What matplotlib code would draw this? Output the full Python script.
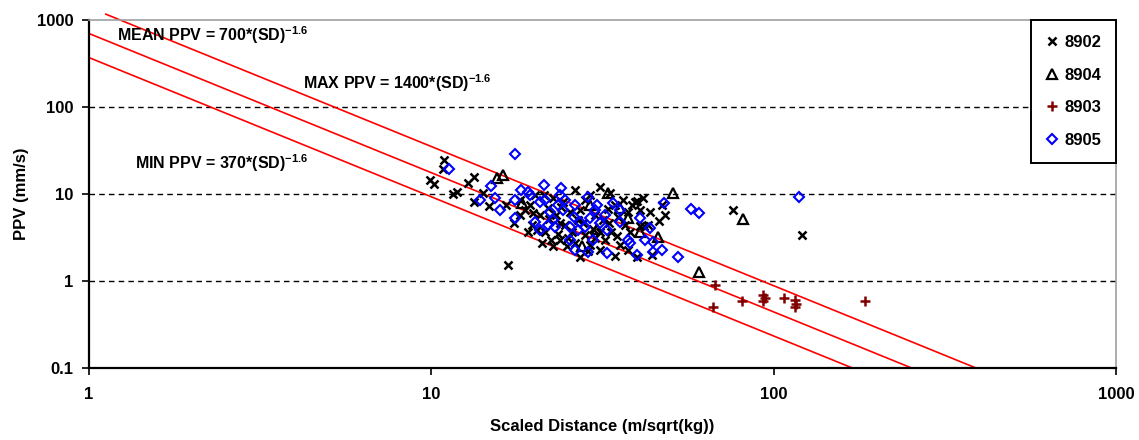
import numpy as np
import matplotlib
matplotlib.use("Agg")
import matplotlib.pyplot as plt
from matplotlib.ticker import FixedLocator, FixedFormatter, NullLocator

plt.rcParams['font.family'] = ['Liberation Sans', 'DejaVu Sans']
plt.rcParams['font.weight'] = 'bold'
plt.rcParams['axes.labelweight'] = 'bold'
plt.rcParams['mathtext.fontset'] = 'custom'
plt.rcParams['mathtext.rm'] = 'Liberation Sans:bold'
plt.rcParams['mathtext.default'] = 'regular'

# scaled distance / PPV
sd_8902 = [10.9, 10.8, 9.9, 10.2, 11.6, 11.9, 12.8, 13.3, 13.3, 14.7, 16.5, 17.4, 16.7, 14.2,
           18.2, 18.8, 19.4, 20.1, 19.7, 20.4, 21.1, 22.4, 22.6, 24.9, 26.3, 27.2, 34.4, 35.6,
           34.4, 35.1, 31.8, 31.1, 33.3, 24.3, 25.4, 23.8, 21.3, 22.6, 20.8, 21.9, 23.1, 24.6,
           25.8, 28.1, 29.1, 30.1, 31.1, 32.2, 33.5, 36.8, 37.5, 38.6, 39.4, 41.5, 39.9, 46.1,
           40.7, 41.8, 43.0, 39.9, 44.1, 76.2, 121, 30.1, 27.2, 28.1, 29.1, 26.3, 18.2, 19.2,
           21.5, 23.8, 25.1, 26.8, 31.1, 36.3, 38.1, 43.6, 47.2, 48.2, 37.5, 40.7,
           22.0, 24.0, 27.8, 29.6, 32.8, 34.8, 19.8, 23.4, 28.6, 33.0]
ppv_8902 = [24.6, 19.4, 14.5, 13.0, 10.0, 10.5, 13.4, 15.7, 8.1, 7.3, 7.5, 4.6, 1.53, 10.3,
            8.5, 6.5, 7.5, 9.7, 4.4, 3.9, 2.7, 3.0, 2.5, 2.5, 2.7, 1.89, 1.94, 2.6,
            7.5, 5.4, 5.0, 12.0, 10.3, 8.1, 6.2, 4.6, 9.7, 9.0, 5.7, 6.9, 5.7, 4.4,
            3.7, 3.4, 2.6, 3.1, 2.3, 3.0, 3.7, 4.4, 6.2, 7.5, 8.1, 9.0, 8.3, 4.9,
            4.3, 4.3, 4.4, 1.89, 2.0, 6.5, 3.35, 5.7, 6.5, 8.5, 9.7, 11.1, 5.7, 3.7,
            3.7, 3.0, 3.1, 5.0, 3.7, 8.5, 3.7, 6.2, 7.5, 5.7, 2.3, 6.5,
            5.2, 7.0, 4.6, 4.0, 6.8, 3.3, 6.0, 3.5, 2.2, 4.7]

sd_8904 = [16.2, 15.6, 32.8, 35.6, 27.6, 30.5, 50.7, 37.5, 45.9, 81.3, 60.7, 18.4, 40.7, 29.1]
ppv_8904 = [16.5, 15.3, 10.3, 6.9, 2.5, 4.0, 10.3, 5.3, 3.2, 5.2, 1.27, 7.9, 3.7, 7.5]

sd_8903 = [67.4, 66.5, 80.8, 93, 93, 94.4, 107, 115.5, 115.5, 116, 185]
ppv_8903 = [0.9, 0.5, 0.59, 0.69, 0.59, 0.64, 0.64, 0.6, 0.5, 0.55, 0.59]

sd_8905 = [11.3, 17.5, 14.9, 13.9, 15.3, 17.6, 18.3, 19.2, 17.6, 21.3, 24.0, 28.6, 30.5, 34.0,
           20.8, 22.2, 24.3, 26.1, 27.2, 25.4, 26.9, 28.1, 29.1, 31.1, 32.6, 25.4, 28.6, 32.6,
           23.0, 22.6, 20.1, 47.8, 57.3, 60.5, 52.5, 37.5, 38.1, 43.6, 42.1, 44.3, 47.2, 39.9,
           44.3, 118.5, 19.4, 21.5, 23.4, 23.8, 24.6, 26.3, 30.1, 32.2, 35.6, 20.8, 21.9, 35.6,
           40.7, 29.6, 26.3, 15.9]
ppv_8905 = [19.4, 28.8, 12.4, 8.5, 9.0, 8.5, 11.1, 10.5, 5.3, 12.7, 11.7, 9.2, 7.5, 7.9,
            8.1, 6.2, 6.5, 5.4, 4.8, 4.2, 3.9, 4.2, 5.3, 4.6, 3.9, 3.0, 2.15, 2.1,
            4.2, 5.0, 4.8, 7.9, 6.7, 6.05, 1.89, 3.0, 2.7, 4.1, 3.0, 2.8, 2.3, 2.0,
            2.15, 9.2, 9.7, 8.5, 7.5, 9.7, 8.5, 7.5, 6.5, 5.7, 4.8, 3.9, 4.4, 6.5,
            5.3, 3.0, 2.3, 6.5]

# PPV = K * SD^-1.6
fit_k = [700, 1400, 370]
fit_start = [1.0, 1.12, 1.0]
exponent = -1.6

fig = plt.figure(figsize=(11.39, 4.40), dpi=100)
ax = fig.add_axes([0.0781, 0.1636, 0.9017, 0.7909])
ax.set_xscale('log')
ax.set_yscale('log')
ax.set_xlim(1, 1000)
ax.set_ylim(0.1, 1000)

for k, x0 in zip(fit_k, fit_start):
    x1 = (k / 0.1) ** (1 / -exponent)
    xs = np.array([x0, x1])
    ax.plot(xs, k * xs ** exponent, color='#ff0000', lw=1.2, clip_on=False, zorder=2)

for yv in [1, 10, 100]:
    ax.axhline(yv, color='black', lw=1, ls=(0, (4, 3)), zorder=1)

ax.plot(sd_8902, ppv_8902, ls='none', marker='x', ms=6, mew=1.8, color='black', label='8902', zorder=3)
ax.plot(sd_8904, ppv_8904, ls='none', marker='^', ms=7, mew=1.6, mfc='none', mec='black', label='8904', zorder=3)
ax.plot(sd_8903, ppv_8903, ls='none', marker='+', ms=7, mew=1.8, color='#800000', label='8903', zorder=3)
ax.plot(sd_8905, ppv_8905, ls='none', marker='D', ms=5.5, mew=1.5, mfc='none', mec='#0000ff', label='8905', zorder=3)

ax.text(0.027, 0.957, 'MEAN PPV = 700*(SD)$^{-1.6}$', transform=ax.transAxes, fontsize=11.5, va='center')
ax.text(0.208, 0.819, 'MAX PPV = 1400*(SD)$^{-1.6}$', transform=ax.transAxes, fontsize=11.5, va='center')
ax.text(0.045, 0.589, 'MIN PPV = 370*(SD)$^{-1.6}$', transform=ax.transAxes, fontsize=11.5, va='center')

ax.xaxis.set_major_locator(FixedLocator([1, 10, 100, 1000]))
ax.xaxis.set_major_formatter(FixedFormatter(['1', '10', '100', '1000']))
ax.yaxis.set_major_locator(FixedLocator([0.1, 1, 10, 100, 1000]))
ax.yaxis.set_major_formatter(FixedFormatter(['0.1', '1', '10', '100', '1000']))
ax.xaxis.set_minor_locator(NullLocator())
ax.yaxis.set_minor_locator(NullLocator())
ax.tick_params(axis='both', labelsize=12, length=5, width=1.2, direction='out')
ax.tick_params(axis='x', pad=9)
ax.tick_params(axis='y', pad=6)

for s in ['left', 'bottom']:
    ax.spines[s].set_linewidth(1.6)
    ax.spines[s].set_color('black')
for s in ['top', 'right']:
    ax.spines[s].set_linewidth(1.2)
    ax.spines[s].set_color('#a0a0a0')

ax.set_xlabel('Scaled Distance (m/sqrt(kg))', fontsize=12, fontweight='bold', labelpad=12)
ax.set_ylabel('PPV (mm/s)', fontsize=12, fontweight='bold', labelpad=6)

leg = ax.legend(loc='upper right', bbox_to_anchor=(1.0, 1.0), borderaxespad=0, fontsize=12,
                frameon=True, fancybox=False, edgecolor='black', framealpha=1,
                handlelength=0.8, handletextpad=0.3, labelspacing=1.05, borderpad=0.9,
                markerfirst=True)
leg.get_frame().set_linewidth(1.4)

fig.savefig('out.png', dpi=100)
